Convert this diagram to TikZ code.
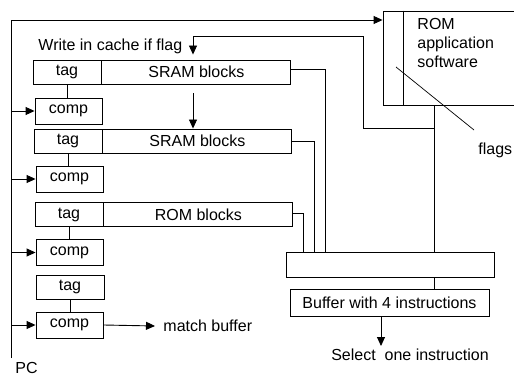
\documentclass[tikz,border=0pt]{standalone}
\usepackage{fontspec}
\setmainfont{Liberation Sans}
\usepackage{tikz}
\usetikzlibrary{arrows.meta,positioning}

\begin{document}
\begin{tikzpicture}[x=1pt,y=-1pt,line width=0.9pt,
    font=\fontsize{16}{19}\selectfont,
    >={Triangle[length=9pt,width=8pt]},
    box/.style={draw,rectangle,inner sep=0pt,minimum height=24pt},
    tagbox/.style={box,minimum width=68pt},
    compbox/.style={box,minimum width=67pt,minimum height=26pt},
    blockbox/.style={box,minimum width=189pt},
    label/.style={inner sep=0pt}]
   \useasboundingbox (0,0) rectangle (514,379);
   \clip (0,0) rectangle (514,379);
   % cache rows
   \node[tagbox] (tag1) at (67,72) {tag};
   \node[blockbox,right=0pt of tag1] (sram1) {SRAM blocks};
   \node[compbox] (comp1) at (68.5,111) {comp};
   \node[tagbox] (tag2) at (68,141) {tag};
   \node[blockbox,right=0pt of tag2] (sram2) {SRAM blocks};
   \node[compbox] (comp2) at (69.5,179) {comp};
   \node[tagbox] (tag3) at (69,214.5) {tag};
   \node[blockbox,right=0pt of tag3] (romb) {ROM blocks};
   \node[compbox] (comp3) at (69.5,252.5) {comp};
   \node[tagbox] (tag4) at (70,287) {tag};
   \node[compbox] (comp4) at (69.5,325) {comp};
   % ROM, mux and buffer
   \node[box,minimum width=137pt,minimum height=94pt] (rom) at (451.5,58) {};
   \node[label,anchor=north west,align=left] (romtxt) at (417,18) {ROM\\application\\software};
   \node[box,minimum width=208pt,minimum height=25pt] (mux) at (390,264.5) {};
   \node[box,minimum width=199pt,minimum height=27pt] (buf) at (389.5,302.5) {Buffer with 4 instructions};
   \node[label,anchor=north] (sel) at (410,348) {Select\ \ one instruction};
   \node[label,anchor=west] (match) at (163,326) {match buffer};
   \node[label,anchor=west] (flags) at (478,150) {flags};
   \node[label,anchor=west] (write) at (38,46) {Write in cache if flag};
   \node[label,anchor=north west] (pc) at (15,362) {PC};
   \coordinate (pcbot) at (11,358);
   \coordinate (pctop) at (11,20);
   \coordinate (romx) at (434,0);
   \coordinate (wrx) at (363,128);
   \coordinate (in1) at (325,0);
   \coordinate (in2) at (314,0);
   \coordinate (in3) at (303,0);
   \coordinate (selx) at (381,0);
   \coordinate (fl1) at (396,67);
   \coordinate (fl2) at (474,130);
   % ROM divider
   \draw (rom.north west) ++(21,0) -- ++(0,94);
   % PC bus
   \draw[->] (pcbot) -- (pctop) -- (pctop -| rom.west);
   \foreach \c in {comp1,comp2,comp3,comp4}
     \draw[->] (pctop |- \c.west) -- (\c.west);
   % tag to comp
   \draw (tag1.south) -- (comp1.north -| tag1.south);
   \draw (tag2.south) -- (comp2.north -| tag2.south);
   \draw (tag3.south) -- (comp3.north -| tag3.south);
   \draw (tag4.south) -- (comp4.north -| tag4.south);
   \draw[->] (comp4.east) -- ([xshift=-8pt]match.west);
   % write back
   \draw (rom.south -| romx) -- (mux.north -| romx);
   \draw[->] (wrx -| romx) -- (wrx) |- (193,36) -- ([yshift=5pt]sram1.north -| 193,0);
   \draw[->] ([yshift=-9pt]sram1.south -| 193,0) -- (sram2.north -| 193,0);
   % blocks to mux
   \draw ([yshift=3pt]sram1.east) -| (mux.north -| in1);
   \draw (sram2.east) -| (mux.north -| in2);
   \draw ([yshift=1.5pt]romb.east) -| (mux.north -| in3);
   \draw (mux.south -| romx) -- (buf.north -| romx);
   \draw[->] (buf.south -| selx) -- ([yshift=2pt]sel.north -| selx);
   % flags
   \draw[line width=0.7pt] (fl1) -- (fl2);
\end{tikzpicture}
\end{document}
